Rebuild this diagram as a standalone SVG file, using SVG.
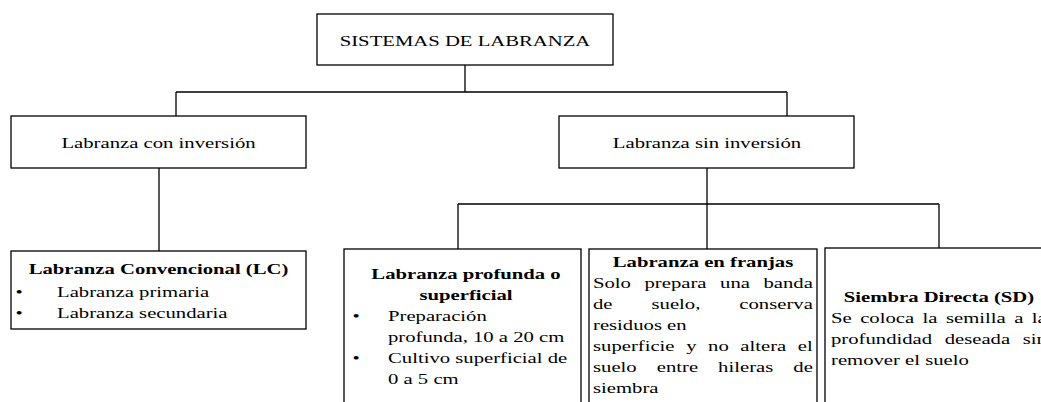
<svg xmlns="http://www.w3.org/2000/svg" width="1041" height="402" viewBox="0 0 1041 402">
<style>
.box{fill:#fff;stroke:#000;stroke-width:1.3}
.c{fill:none;stroke:#000;stroke-width:1.3}
text{font-family:"Liberation Serif","Times New Roman",serif;font-size:15px;fill:#000}
.b{font-weight:bold}
.m{text-anchor:middle}
</style>
<rect width="1041" height="402" fill="#fff"/>
<g id="connectors">
<path class="c" d="M465 65V92M176 92H787M176 92V116M787 92V116M159 168V251M707 168V249M458 204H939M458 204V249M939 204V248"/>
</g>
<g id="n-root">
<rect class="box" x="317" y="14" width="296" height="51"/>
<text class="m" transform="translate(465 46) scale(1.38 1)">SISTEMAS DE LABRANZA</text>
</g>
<g id="n-con">
<rect class="box" x="11" y="116" width="295" height="52"/>
<text class="m" transform="translate(158.5 148) scale(1.38 1)">Labranza con inversión</text>
</g>
<g id="n-sin">
<rect class="box" x="559" y="116" width="295" height="52"/>
<text class="m" transform="translate(707 148) scale(1.38 1)">Labranza sin inversión</text>
</g>
<g id="n-lc">
<rect class="box" x="11" y="251" width="295" height="78"/>
<text class="m b" transform="translate(158.5 274) scale(1.38 1)">Labranza Convencional (LC)</text>
<text class="m" transform="translate(19 297) scale(1.38 1)">•</text>
<text transform="translate(57 297) scale(1.38 1)">Labranza primaria</text>
<text class="m" transform="translate(19 318) scale(1.38 1)">•</text>
<text transform="translate(57 318) scale(1.38 1)">Labranza secundaria</text>
</g>
<g id="n-prof">
<rect class="box" x="344" y="249" width="237" height="170"/>
<text class="m b" transform="translate(466 279) scale(1.38 1)">Labranza profunda o</text>
<text class="m b" transform="translate(466 300) scale(1.38 1)">superficial</text>
<text class="m" transform="translate(356 321) scale(1.38 1)">•</text>
<text transform="translate(388 321) scale(1.38 1)">Preparación</text>
<text transform="translate(388 342) scale(1.38 1)">profunda, 10 a 20 cm</text>
<text class="m" transform="translate(356 363) scale(1.38 1)">•</text>
<text transform="translate(388 363) scale(1.38 1)">Cultivo superficial de</text>
<text transform="translate(388 384) scale(1.38 1)">0 a 5 cm</text>
</g>
<g id="n-fran">
<rect class="box" x="589" y="249" width="228" height="170"/>
<text class="m b" transform="translate(703 267) scale(1.38 1)">Labranza en franjas</text>
<text transform="translate(593 288) scale(1.38 1)" word-spacing="6.08">Solo prepara una banda</text>
<text transform="translate(593 309) scale(1.38 1)" word-spacing="24.5">de suelo, conserva</text>
<text transform="translate(593 330) scale(1.38 1)">residuos en</text>
<text transform="translate(593 351) scale(1.38 1)" word-spacing="4.65">superficie y no altera el</text>
<text transform="translate(593 372) scale(1.38 1)" word-spacing="10.79">suelo entre hileras de</text>
<text transform="translate(593 393) scale(1.38 1)">siembra</text>
</g>
<g id="n-sd">
<rect class="box" x="825" y="248" width="230" height="170"/>
<text class="m b" transform="translate(939 302) scale(1.38 1)">Siembra Directa (SD)</text>
<text transform="translate(831 323) scale(1.38 1)" word-spacing="2.39">Se coloca la semilla a la</text>
<text transform="translate(831 344) scale(1.38 1)" word-spacing="5.34">profundidad deseada sin</text>
<text transform="translate(831 365) scale(1.38 1)">remover el suelo</text>
</g>
</svg>
